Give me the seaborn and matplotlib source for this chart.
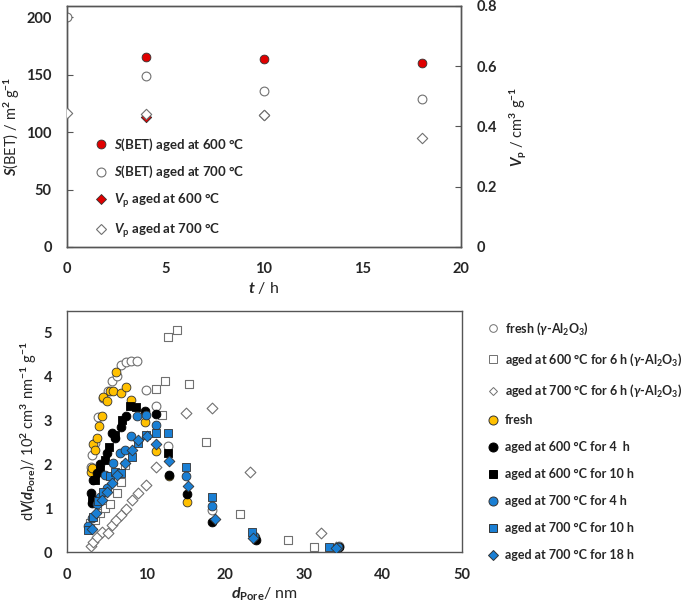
import numpy as np
import pandas as pd
import matplotlib
matplotlib.use('Agg')
import matplotlib.pyplot as plt
import seaborn as sns
from matplotlib.lines import Line2D

# ---- top panel: surface area and pore volume vs ageing time ----
t_sbet_600 = [4, 10, 18]
sbet_600 = [165.7, 163.4, 160.5]
t_sbet_700 = [0, 4, 10, 18]
sbet_700 = [200.0, 148.6, 135.6, 128.6]
t_vp_600 = [4, 10]
vp_600 = [0.433, 0.438]
t_vp_700 = [0, 4, 10, 18]
vp_700 = [0.444, 0.441, 0.438, 0.363]

# ---- bottom panel: pore size distributions ----
d_fresh_g = [2.95, 3.08, 3.5, 3.92, 4.56, 5.19, 5.61, 6.24, 6.75, 7.38, 8.02, 8.86, 9.96, 11.22, 12.78, 18.4, 23.5, 34.5]
v_fresh_g = [1.95, 2.22, 2.49, 3.09, 3.51, 3.67, 3.91, 4.02, 4.26, 4.33, 4.35, 4.35, 3.70, 3.34, 2.43, 0.97, 0.37, 0.14]
d_600_6_g = [2.87, 3.5, 4.14, 4.77, 5.4, 6.24, 6.79, 7.3, 11.18, 12.0, 12.36, 12.78, 13.84, 15.44, 17.55, 21.9, 27.97, 31.3]
v_600_6_g = [0.66, 0.74, 0.89, 1.00, 1.10, 1.36, 1.61, 1.98, 3.72, 3.13, 3.91, 4.90, 5.06, 3.83, 2.51, 0.87, 0.27, 0.11]
d_700_6_g = [2.95, 3.29, 3.71, 4.35, 5.19, 5.61, 6.16, 6.75, 7.38, 8.14, 8.9, 9.96, 11.22, 15.0, 18.3, 23.1, 32.1, 34.1]
v_700_6_g = [0.14, 0.24, 0.34, 0.47, 0.43, 0.62, 0.74, 0.85, 0.99, 1.19, 1.36, 1.54, 1.95, 3.17, 3.29, 1.84, 0.43, 0.13]
d_fresh = [2.95, 3.16, 3.29, 3.5, 3.71, 4.05, 4.43, 4.56, 5.06, 5.4, 5.74, 6.16, 6.75, 7.38, 8.02, 9.83, 11.22, 12.9, 15.2, 23.75, 34.3]
v_fresh = [1.83, 1.93, 2.46, 2.33, 2.60, 2.87, 3.11, 3.53, 3.46, 3.67, 3.67, 4.11, 3.64, 3.76, 3.48, 2.97, 2.32, 1.73, 1.15, 0.34, 0.13]
d_600_4 = [2.95, 3.08, 3.29, 3.71, 4.14, 4.98, 5.61, 6.03, 6.75, 7.38, 9.83, 11.22, 12.9, 15.2, 18.3, 23.9, 34.5]
v_600_4 = [1.36, 1.12, 1.65, 1.80, 2.02, 2.26, 2.71, 2.60, 2.85, 3.10, 3.21, 3.16, 1.76, 1.32, 0.70, 0.28, 0.13]
d_600_10 = [3.08, 3.5, 4.14, 4.77, 5.32, 6.03, 6.88, 7.93, 8.69, 12.8]
v_600_10 = [1.19, 1.65, 1.88, 2.11, 2.41, 2.68, 3.02, 3.34, 3.31, 2.27]
d_700_4 = [2.66, 3.08, 3.71, 4.14, 4.77, 4.98, 5.74, 6.67, 7.3, 8.02, 8.86, 9.96, 11.22, 15.0, 18.3, 23.6, 34.3]
v_700_4 = [0.59, 0.78, 1.10, 1.27, 1.76, 1.46, 2.03, 2.27, 2.33, 2.64, 3.10, 3.13, 2.90, 1.75, 1.06, 0.37, 0.13]
d_700_10 = [2.66, 3.29, 3.92, 4.56, 5.4, 6.03, 6.75, 8.14, 8.99, 9.96, 11.22, 12.78, 15.1, 18.35, 23.46, 33.2]
v_700_10 = [0.51, 0.81, 1.16, 1.38, 1.73, 1.84, 1.80, 2.18, 2.49, 2.68, 2.73, 2.73, 1.95, 1.25, 0.46, 0.13]
d_700_18 = [3.08, 3.63, 4.35, 4.98, 5.61, 6.24, 7.3, 8.14, 8.99, 10.04, 11.3, 12.9, 15.3, 18.7, 23.5, 34.1]
v_700_18 = [0.52, 0.89, 1.19, 1.38, 1.57, 1.76, 2.03, 2.33, 2.56, 2.65, 2.47, 2.09, 1.52, 0.76, 0.32, 0.09]

RED = '#e00000'
GOLD = '#ffc000'
BLUE = '#1a7fd4'
GRAY = '#707070'

sns.set_style('white')
plt.rcParams['font.family'] = ['Lato', 'DejaVu Sans']
plt.rcParams['font.weight'] = 'bold'
plt.rcParams['mathtext.fontset'] = 'custom'
plt.rcParams['mathtext.rm'] = 'Lato:bold'
plt.rcParams['mathtext.it'] = 'Lato:italic:bold'
plt.rcParams['mathtext.bf'] = 'Lato:bold'
plt.rcParams['axes.edgecolor'] = '#555555'
plt.rcParams['axes.linewidth'] = 1.0

fig = plt.figure(figsize=(6.85, 6.03), dpi=100)
ax1 = fig.add_axes([0.0978, 0.5904, 0.5752, 0.3997])
ax1r = ax1.twinx()
ax2 = fig.add_axes([0.0983, 0.0841, 0.5758, 0.4001])

# top panel
sns.scatterplot(x=t_sbet_600, y=sbet_600, ax=ax1, marker='o', color=RED,
                edgecolor='#333333', linewidth=0.6, s=40, zorder=3)
sns.scatterplot(x=t_sbet_700, y=sbet_700, ax=ax1, marker='o', color='white',
                edgecolor=GRAY, linewidth=0.8, s=40, zorder=3)
sns.scatterplot(x=t_vp_600, y=vp_600, ax=ax1r, marker='D', color=RED,
                edgecolor='#333333', linewidth=0.6, s=28, zorder=3)
sns.scatterplot(x=t_vp_700, y=vp_700, ax=ax1r, marker='D', color='white',
                edgecolor=GRAY, linewidth=0.8, s=28, zorder=3)

ax1.set_xlim(0, 20)
ax1.set_ylim(0, 210)
ax1r.set_ylim(0, 0.8)
ax1.set_xticks([0, 5, 10, 15, 20])
ax1.set_yticks([0, 50, 100, 150, 200])
ax1r.set_yticks([0, 0.2, 0.4, 0.6, 0.8])
ax1r.set_yticklabels(['0', '0.2', '0.4', '0.6', '0.8'])
ax1.tick_params(direction='in', length=4, labelsize=10.5, pad=11, color='#555555')
ax1r.tick_params(direction='in', length=4, labelsize=10.5, pad=11, color='#555555')
ax1.set_xlabel(r'$\mathit{t}$ / h', fontsize=11.5, labelpad=3)
ax1.set_ylabel(r'$\mathit{S}$(BET) / m$^2$ g$^{-1}$', fontsize=10.5, labelpad=3)
ax1r.set_ylabel(r'$\mathit{V}_{\rm p}$ / cm$^3$ g$^{-1}$', fontsize=10.5, labelpad=8)

top_handles = [
    Line2D([], [], ls='', marker='o', mfc=RED, mec='#333333', mew=0.6, ms=6.4),
    Line2D([], [], ls='', marker='o', mfc='white', mec=GRAY, mew=0.8, ms=6.4),
    Line2D([], [], ls='', marker='D', mfc=RED, mec='#333333', mew=0.6, ms=5.2),
    Line2D([], [], ls='', marker='D', mfc='white', mec=GRAY, mew=0.8, ms=5.2),
]
top_labels = [r'$\mathit{S}$(BET) aged at 600 °C', r'$\mathit{S}$(BET) aged at 700 °C',
              r'$\mathit{V}_{\rm p}$ aged at 600 °C', r'$\mathit{V}_{\rm p}$ aged at 700 °C']
ax1.legend(top_handles, top_labels, loc='upper left', bbox_to_anchor=(0.055, 0.48),
           frameon=False, fontsize=9.5, handletextpad=0.5, labelspacing=0.85,
           handlelength=1.0, borderaxespad=0)

# bottom panel
series = [
    (d_fresh_g, v_fresh_g, 'o', 'white', GRAY, 'fresh ($\\mathit{\\gamma}$-Al$_2$O$_3$)'),
    (d_600_6_g, v_600_6_g, 's', 'white', GRAY, 'aged at 600 °C for 6 h ($\\mathit{\\gamma}$-Al$_2$O$_3$)'),
    (d_700_6_g, v_700_6_g, 'D', 'white', GRAY, 'aged at 700 °C for 6 h ($\\mathit{\\gamma}$-Al$_2$O$_3$)'),
    (d_fresh, v_fresh, 'o', GOLD, '#333333', 'fresh'),
    (d_600_4, v_600_4, 'o', 'black', 'black', 'aged at 600 °C for 4  h'),
    (d_600_10, v_600_10, 's', 'black', 'black', 'aged at 600 °C for 10 h'),
    (d_700_4, v_700_4, 'o', BLUE, '#333333', 'aged at 700 °C for 4 h'),
    (d_700_10, v_700_10, 's', BLUE, '#333333', 'aged at 700 °C for 10 h'),
    (d_700_18, v_700_18, 'D', BLUE, '#333333', 'aged at 700 °C for 18 h'),
]
bottom_handles = []
bottom_labels = []
for i, (d, v, mk, fc, ec, lab) in enumerate(series):
    size = 40 if mk != 'D' else 30
    if mk == 's':
        size = 34
    sns.scatterplot(x=d, y=v, ax=ax2, marker=mk, color=fc, edgecolor=ec,
                    linewidth=0.8 if fc == 'white' else 0.6, s=size, zorder=3 + i)
    small = fc == 'white'
    ms = {'o': 6.5, 's': 6.0, 'D': 5.0}[mk]
    if small:
        ms *= 0.85
    bottom_handles.append(Line2D([], [], ls='', marker=mk, mfc=fc, mec=ec, mew=0.7, ms=ms))
    bottom_labels.append(lab)

ax2.set_xlim(0, 50)
ax2.set_ylim(0, 5.5)
ax2.set_xticks([0, 10, 20, 30, 40, 50])
ax2.set_yticks([0, 1, 2, 3, 4, 5])
ax2.tick_params(direction='in', length=4, labelsize=10.5, pad=11, color='#555555')
ax2.set_xlabel(r'$\mathit{d}_{\rm Pore}$/ nm', fontsize=11.5, labelpad=3)
ax2.set_ylabel(r'd$\mathit{V}$($\mathit{d}_{\rm Pore}$)/ 10$^2$ cm$^3$ nm$^{-1}$ g$^{-1}$',
               fontsize=10.5, labelpad=3)
fig.legend(bottom_handles, bottom_labels, loc='upper left', bbox_to_anchor=(0.703, 0.477),
           frameon=False, fontsize=9, handletextpad=0.45, labelspacing=1.2,
           handlelength=1.0, borderaxespad=0)

fig.savefig('out.png', dpi=100)
